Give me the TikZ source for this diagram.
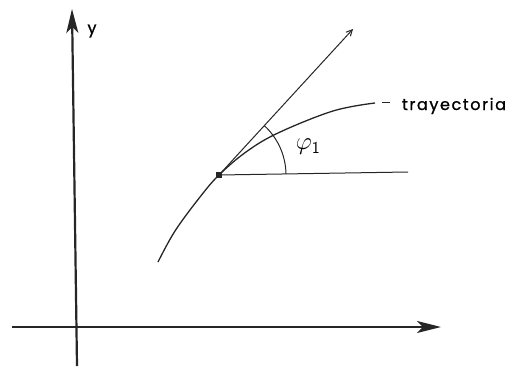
\documentclass[tikz,border=0pt]{standalone}
\usepackage{fontspec}
\setmainfont{Poppins}
\usetikzlibrary{arrows.meta,angles}
\tikzset{
  axisline/.style={draw=black!85,line width=2.2pt,-{Stealth[length=24pt,width=12pt,inset=6pt]}},
  pathline/.style={draw=black!85,line width=1.3pt},
  thinline/.style={draw=black!85,line width=1pt},
  lbl/.style={inner sep=0pt,outer sep=0pt,text=black,font=\fontsize{16}{19}\selectfont\addfontfeature{FakeBold=1}}
}
\begin{document}
\begin{tikzpicture}[x=1pt,y=-1pt]
\path[use as bounding box] (0,0) rectangle (513,369);
\coordinate (O) at (75,327);
\coordinate (xend) at (441,327);
\coordinate (xstart) at (12,327);
\coordinate (ystart) at (77,366);
\coordinate (yend) at (72,9);
\coordinate (P) at (219,175);
\coordinate (T) at (353,29);
\coordinate (H) at (408,172);
\draw[axisline] (xstart) -- (xend);
\draw[axisline] (ystart) -- (yend);
\node[lbl,anchor=center] (ylab) at (92,31) {y};
% trajectory
\draw[pathline] plot[smooth,tension=0.6] coordinates {(158,262) (175,231) (200,197) (P) (246,152) (278,133) (333,111) (375,103)};
\draw[thinline] (382,102) -- (390,102);
\node[lbl,anchor=base west] (tray) at (402,110) {\addfontfeature{LetterSpace=10}trayectoria};
% tangent and horizontal
\draw[thinline,-{Straight Barb[length=6pt,width=6pt]}] (P) -- (T);
\draw[thinline] (P) -- (H);
\node[fill=black!85,inner sep=0pt,minimum size=6pt] (pt) at (P) {};
\pic[draw=black!85,line width=1pt,angle radius=67pt] {angle=H--P--T};
\node[lbl,anchor=center,font=\fontsize{24}{26}\selectfont] (phi) at (308,147) {$\varphi_{\mathsf{1}}$};
\end{tikzpicture}
\end{document}
